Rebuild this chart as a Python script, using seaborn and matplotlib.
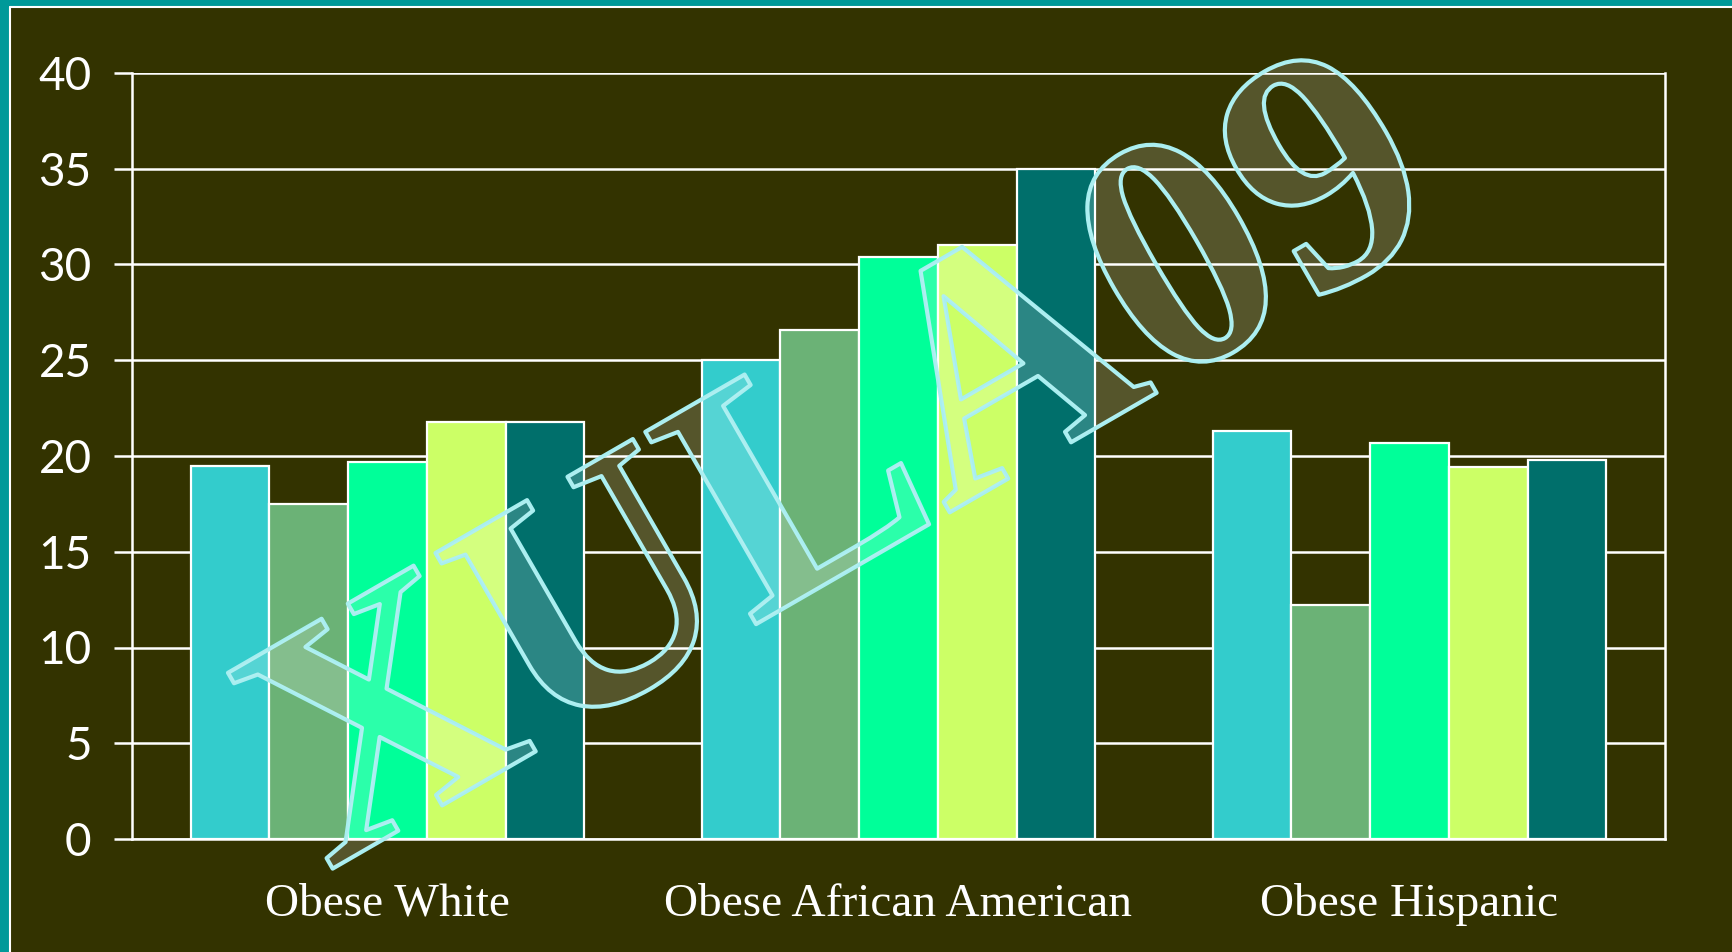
import matplotlib
matplotlib.use("Agg")
import matplotlib.pyplot as plt
import matplotlib.patheffects as pe
from matplotlib.patches import Rectangle
from matplotlib.lines import Line2D
import seaborn as sns
import pandas as pd

categories = ["Obese White", "Obese African American", "Obese Hispanic"]
series_names = ["Series 1", "Series 2", "Series 3", "Series 4", "Series 5"]
series_values = [
    [19.5, 25.0, 21.3],
    [17.5, 26.6, 12.2],
    [19.7, 30.4, 20.7],
    [21.8, 31.0, 19.4],
    [21.8, 35.0, 19.8],
]
y_ticks = [0, 5, 10, 15, 20, 25, 30, 35, 40]
colors = ["#33CCCC", "#6BB276", "#00FF99", "#CCFF66", "#006F6B"]
watermark = "XULA09"

rows = []
for s, vals in zip(series_names, series_values):
    for c, v in zip(categories, vals):
        rows.append({"category": c, "series": s, "value": v})
df = pd.DataFrame(rows)

sns.set_theme(style="white")
BG = "#333300"
fig = plt.figure(figsize=(17.32, 9.52), dpi=100, facecolor=BG)

# slide frame (teal strip top/left with a white rule)
fig.patches.append(Rectangle((0, 1 - 6 / 952), 1, 6 / 952, transform=fig.transFigure,
                             facecolor="#009999", edgecolor="none", zorder=0))
fig.patches.append(Rectangle((0, 0), 9 / 1732, 1, transform=fig.transFigure,
                             facecolor="#009999", edgecolor="none", zorder=0))
fig.lines.append(Line2D([9.5 / 1732, 1], [1 - 6.5 / 952, 1 - 6.5 / 952], transform=fig.transFigure,
                        color="white", lw=1.5))
fig.lines.append(Line2D([9.5 / 1732, 9.5 / 1732], [0, 1 - 6.5 / 952], transform=fig.transFigure,
                        color="white", lw=1.5))

ax = fig.add_axes([132 / 1732, 1 - 839 / 952, (1665 - 132) / 1732, (839 - 73) / 952])
ax.set_facecolor(BG)

sns.barplot(data=df, x="category", y="value", hue="series", order=categories,
            hue_order=series_names, palette=colors, width=0.77, gap=0,
            edgecolor="white", linewidth=1.6, saturation=1, legend=False, ax=ax, zorder=3)

ax.set_xlim(-0.5, 2.5)
ax.set_ylim(0, 40)
ax.set_yticks(y_ticks)
ax.set_yticklabels([str(t) for t in y_ticks],
                   fontdict={"family": ["Lato", "DejaVu Sans"], "size": 33})
ax.yaxis.grid(True, color="white", lw=1.8, zorder=1)
ax.set_axisbelow(True)
ax.set_xticks(range(len(categories)))
ax.set_xticklabels(categories, fontdict={"family": ["Liberation Serif", "DejaVu Serif"], "size": 34})
ax.set_xticks([-0.5, 0.5, 1.5, 2.5], minor=True)
ax.tick_params(axis="x", which="major", length=0, pad=32, colors="white")
ax.tick_params(axis="x", which="minor", length=8, width=1.8, color="white", direction="out")
ax.tick_params(axis="y", which="major", length=13, width=1.8, color="white", pad=16,
               labelcolor="white", left=True)
for side in ["left", "right", "bottom", "top"]:
    ax.spines[side].set_color("white")
    ax.spines[side].set_linewidth(1.8)
    ax.spines[side].set_visible(True)
ax.spines["top"].set_visible(False)
ax.set_xlabel("")
ax.set_ylabel("")

# watermark
fig.text(0.49, 0.50, watermark, fontsize=244, family=["Liberation Serif", "DejaVu Serif"],
         weight="bold", rotation=30, ha="center", va="center", color=(1, 1, 1, 0.09), zorder=10,
         path_effects=[pe.withStroke(linewidth=3, foreground="#A8EEF0")])

fig.savefig("out.png", dpi=100, facecolor=BG)
